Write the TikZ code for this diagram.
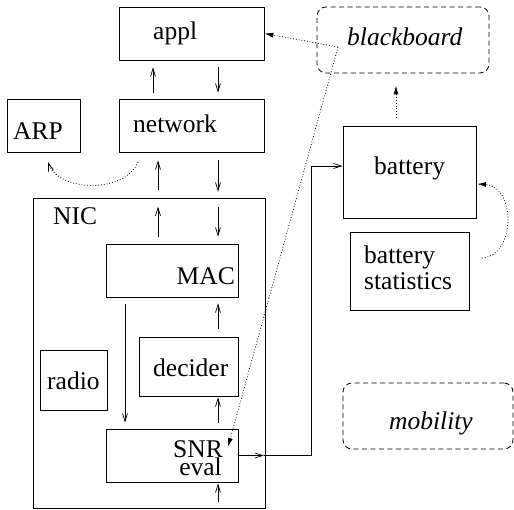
\documentclass[tikz,border=0pt]{standalone}
\usepackage{fontspec}
\setmainfont{Liberation Serif}
\newfontfamily\figfont{Liberation Serif}
\usetikzlibrary{arrows.meta}
\begin{document}
\begin{tikzpicture}[x=1pt,y=-1pt,
  box/.style={draw,line width=0.8pt,inner sep=0pt,minimum width=#1},
  dbox/.style={draw,dashed,dash pattern=on 5pt off 3.5pt,rounded corners=9pt,line width=0.8pt,inner sep=0pt,minimum width=#1},
  txt/.style={anchor=base west,inner sep=0pt,font=\figfont\fontsize{25.5}{27}\selectfont},
  itxt/.style={txt,font=\figfont\fontsize{25.5}{27}\selectfont\itshape},
  arr/.style={-{Straight Barb[length=8pt,width=5pt]},line width=0.7pt},
  darr/.style={-{Latex[length=9pt,width=5pt]},dotted,line width=0.8pt},
  oarr/.style={-{Straight Barb[length=8pt,width=5pt]},dotted,line width=0.8pt}]
\useasboundingbox (0,0) rectangle (514,510);
% boxes
\node[box=145pt,minimum height=53pt] (appl) at (191.5,33.5) {};
\node[box=145pt,minimum height=53pt] (network) at (191.5,125.5) {};
\node[box=73pt,minimum height=53pt] (arp) at (43.5,125.5) {};
\node[box=232pt,minimum height=310pt] (nic) at (149,353) {};
\node[box=132pt,minimum height=53pt] (mac) at (172,270.5) {};
\node[box=99pt,minimum height=59pt] (decider) at (188.5,366.5) {};
\node[box=67pt,minimum height=60pt] (radio) at (73.5,380) {};
\node[box=132pt,minimum height=53pt] (snr) at (172,455.5) {};
\node[box=133pt,minimum height=92pt] (battery) at (409.5,172) {};
\node[box=119pt,minimum height=78pt] (stats) at (409.5,271) {};
\node[dbox=172pt,minimum height=66pt] (bb) at (403,40) {};
\node[dbox=170pt,minimum height=66pt] (mob) at (428,416) {};
% texts
\node[txt] (tappl) at (153,39.5) {appl};
\node[txt] (tnet) at (133,133) {network};
\node[txt] (tarp) at (13,140) {ARP};
\node[txt] (tnic) at (53,225) {NIC};
\node[txt,anchor=base east] (tmac) at (235,285) {MAC};
\node[txt] (tdec) at (153,377) {decider};
\node[txt] (trad) at (47,389) {radio};
\node[txt,anchor=base east,align=right,font=\figfont\fontsize{25.5}{18}\selectfont] (tsnr) at (223,475) {SNR\\eval\kern1pt};
\node[txt] (tbat) at (374,175) {battery};
\node[txt,align=left,font=\figfont\fontsize{25.5}{26}\selectfont] (tbs) at (364,290) {battery\\statistics};
\node[itxt] (tbb) at (347,46) {blackboard};
\node[itxt] (tmob) at (389,429) {mobility};
% solid arrows
\draw[arr,shorten <=6pt,shorten >=7pt] (153,0 |- network.north) -- (153,0 |- appl.south);
\draw[arr,shorten <=7pt,shorten >=6pt] (218,0 |- appl.south) -- (218,0 |- network.north);
\draw[arr,shorten <=8pt,shorten >=8pt] (158,0 |- nic.north) -- (158,0 |- network.south);
\draw[arr,shorten <=8pt,shorten >=6pt] (218,0 |- network.south) -- (218,0 |- nic.north);
\draw[arr,shorten <=7pt,shorten >=9pt] (158,0 |- mac.north) -- (158,0 |- nic.north);
\draw[arr,shorten <=9pt,shorten >=7pt] (218,0 |- nic.north) -- (218,0 |- mac.north);
\draw[arr,shorten <=7pt,shorten >=6pt] (125,0 |- mac.south) -- (125,0 |- snr.north);
\draw[arr,shorten <=8pt,shorten >=6pt] (218,0 |- decider.north) -- (218,0 |- mac.south);
\draw[arr,shorten <=6pt,shorten >=1pt] (218,0 |- snr.north) -- (218,0 |- decider.south);
\draw[arr,shorten <=6pt,shorten >=1pt] (218,0 |- nic.south) -- (218,0 |- snr.south);
\coordinate (port) at (264,455.5);
\draw[arr] (snr.east) -- (port);
\draw[arr] (port) -- (311,455.5) |- ([yshift=6pt]battery.west);
% dotted arrows
\draw[oarr] (138,162) .. controls (125,194) and (58,192) .. (48,162);
\draw[darr] (482,258) .. controls (516,256) and (516,186) .. (477,184);
\draw[darr,shorten <=8pt,shorten >=12pt] (396,0 |- battery.north) -- (396,0 |- bb.south);
\coordinate (bbsrc) at (338,47);
\draw[darr] (bbsrc) -- (appl.east);
\draw[darr] (bbsrc) -- (228,447);
\end{tikzpicture}
\end{document}
